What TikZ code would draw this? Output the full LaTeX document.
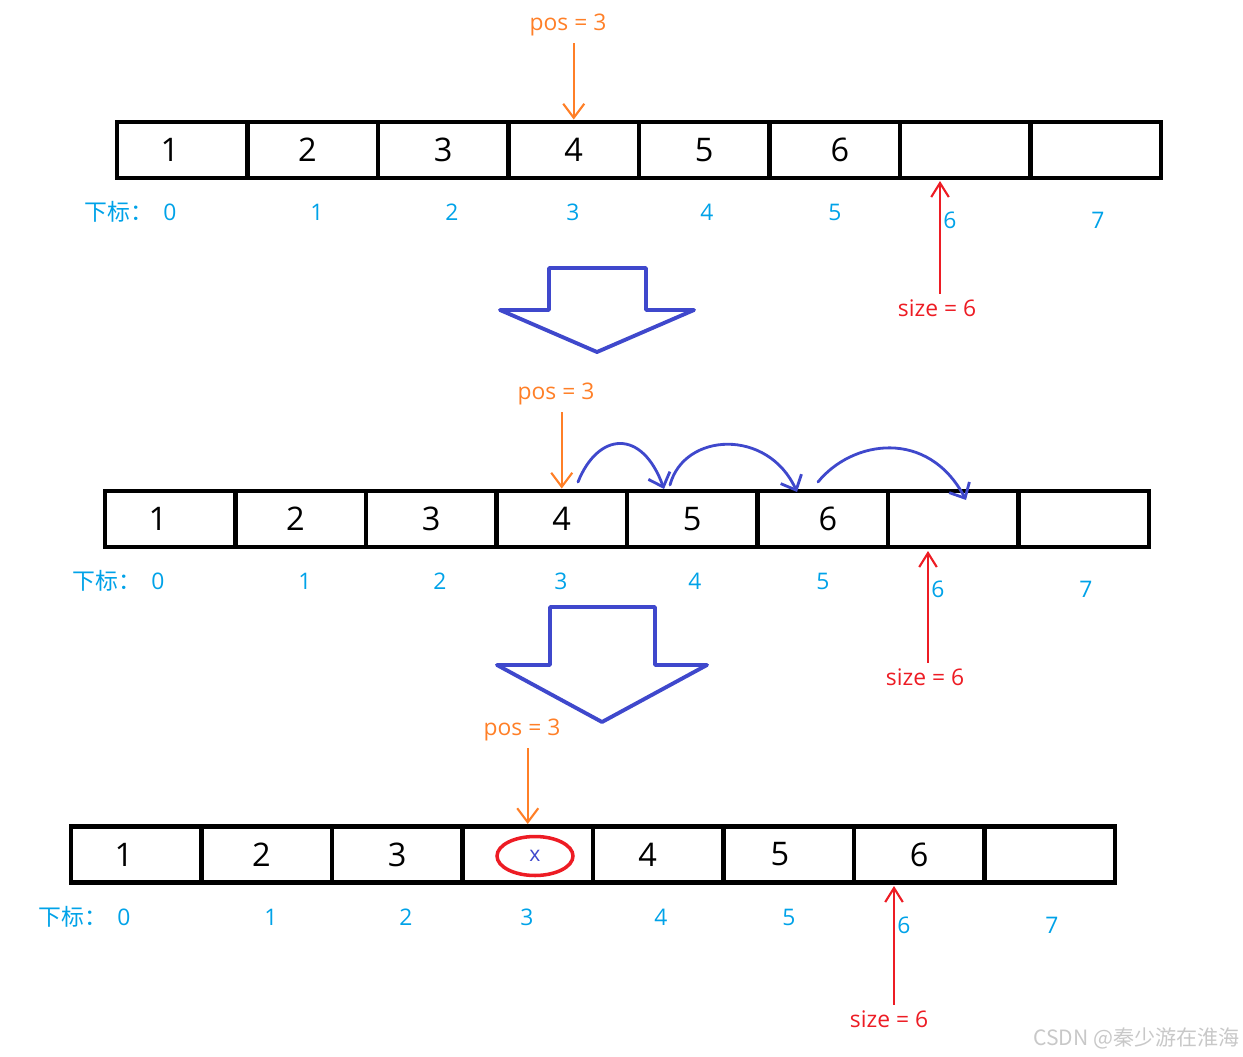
\documentclass[tikz,border=0pt]{standalone}
\usepackage{fontspec}
\setmainfont{Open Sans}
\newfontfamily\cjk{Noto Sans CJK SC}
\definecolor{posorange}{RGB}{255,127,39}
\definecolor{idxblue}{RGB}{0,162,232}
\definecolor{sizered}{RGB}{237,28,36}
\definecolor{penblue}{RGB}{63,72,204}
\definecolor{markgray}{RGB}{200,200,200}
\usetikzlibrary{arrows.meta,shapes.geometric}

\begin{document}
\begin{tikzpicture}[x=0.02cm, y=-0.02cm,
      cell/.style={draw, line width=2.8pt, minimum width=2.61cm,
                   minimum height=1.12cm, inner sep=0pt,
                   font=\fontsize{18.5}{18.5}\selectfont},
      idx/.style={text=idxblue, inner sep=0pt, font=\fontsize{13}{13}\selectfont},
      poslbl/.style={text=posorange, inner sep=0pt, font=\fontsize{13}{13}\selectfont},
      sizelbl/.style={text=sizered, inner sep=0pt, font=\fontsize{13}{13}\selectfont},
      posarr/.style={-{Straight Barb[length=8pt,width=12pt]}, line width=1.2pt,
                     posorange, shorten <=4pt},
      sizearr/.style={-{Straight Barb[length=8pt,width=10pt]}, line width=1.2pt,
                      sizered, shorten <=3pt},
      hop/.style={-{Straight Barb[length=7pt,width=13pt]}, line width=1.6pt,
                  penblue, line cap=round},
      bigarr/.style={draw=penblue, line width=2.2pt, line join=round}
    ]
    \useasboundingbox (0,0) rectangle (1243,1057);

    % row 1
    \node[cell] (r1c0) at (182.25,150) {\hspace{-14pt}1};
    \node[cell] (r1c1) at (312.75,150) {\hspace{-6pt}2};
    \node[cell] (r1c2) at (443.25,150) {3};
    \node[cell] (r1c3) at (573.75,150) {4};
    \node[cell] (r1c4) at (704.25,150) {5};
    \node[cell] (r1c5) at (834.75,150) {\hspace{6pt}6};
    \node[cell] (r1c6) at (965.25,150) {};
    \node[cell] (r1c7) at (1095.75,150) {};

    \node[idx, anchor=west] (r1lbl) at (84,212) {\cjk 下标：};
    \node[idx] (r1i0) at (170,212) {0};
    \node[idx] (r1i1) at (317,212) {1};
    \node[idx] (r1i2) at (452,212) {2};
    \node[idx] (r1i3) at (573,212) {3};
    \node[idx] (r1i4) at (707,212) {4};
    \node[idx] (r1i5) at (835,212) {5};
    \node[idx] (r1i6) at (950,220) {6};
    \node[idx] (r1i7) at (1098,220) {7};

    \node[poslbl] (pos1) at (568,25) {pos = 3};
    \draw[posarr] (pos1.south -| r1c3.north) -- (r1c3.north);
    \node[sizelbl] (size1) at (937,308) {size = 6};
    \coordinate (s1) at (940,181);
    \draw[sizearr] (size1.north -| s1) -- (s1);

    \draw[bigarr] (549,268) -- (646,268) -- (646,310) -- (694,310)
      -- (597,352) -- (500,310) -- (549,310) -- cycle;

    % row 2
    \node[cell] (r2c0) at (170.25,519) {\hspace{-14pt}1};
    \node[cell] (r2c1) at (300.75,519) {\hspace{-6pt}2};
    \node[cell] (r2c2) at (431.25,519) {3};
    \node[cell] (r2c3) at (561.75,519) {4};
    \node[cell] (r2c4) at (692.25,519) {5};
    \node[cell] (r2c5) at (822.75,519) {\hspace{6pt}6};
    \node[cell] (r2c6) at (953.25,519) {};
    \node[cell] (r2c7) at (1083.75,519) {};

    \node[idx, anchor=west] (r2lbl) at (72,581) {\cjk 下标：};
    \node[idx] (r2i0) at (158,581) {0};
    \node[idx] (r2i1) at (305,581) {1};
    \node[idx] (r2i2) at (440,581) {2};
    \node[idx] (r2i3) at (561,581) {3};
    \node[idx] (r2i4) at (695,581) {4};
    \node[idx] (r2i5) at (823,581) {5};
    \node[idx] (r2i6) at (938,589) {6};
    \node[idx] (r2i7) at (1086,589) {7};

    \node[poslbl] (pos2) at (556,394) {pos = 3};
    \draw[posarr] (pos2.south -| r2c3.north) -- (r2c3.north);
    \node[sizelbl] (size2) at (925,677) {size = 6};
    \coordinate (s2) at (928,551);
    \draw[sizearr] (size2.north -| s2) -- (s2);

    \coordinate (h1a) at (578,482);
    \coordinate (h1b) at (664,489);
    \coordinate (h2a) at (670,485);
    \coordinate (h2b) at (797,492);
    \coordinate (h3a) at (818,482);
    \coordinate (h3b) at (966,500);
    \draw[hop] (h1a) .. controls (598,432) and (642,428) .. (h1b);
    \draw[hop] (h2a) .. controls (684,432) and (768,428) .. (h2b);
    \draw[hop] (h3a) .. controls (852,440) and (928,428) .. (h3b);

    \draw[bigarr] (550,607) -- (655,607) -- (655,665) -- (707,665)
      -- (602,722) -- (497,665) -- (550,665) -- cycle;

    % row 3
    \node[cell] (r3c0) at (136.25,854.5) {\hspace{-14pt}1};
    \node[cell] (r3c1) at (266.75,854.5) {\hspace{-6pt}2};
    \node[cell] (r3c2) at (397.25,854.5) {3};
    \node[cell] (r3c3) at (527.75,854.5) {};
    \node[cell] (r3c4) at (658.25,854.5) {\hspace{-12pt}4};
    \node[cell] (r3c5) at (788.75,854.5) {\hspace{-10pt}5};
    \node[cell] (r3c6) at (919.25,854.5) {6};
    \node[cell] (r3c7) at (1049.75,854.5) {};
    \node[draw=sizered, line width=2pt, ellipse, minimum width=1.52cm,
          minimum height=0.78cm, inner sep=0pt, text=penblue,
          font=\fontsize{12}{12}\selectfont] (newx) at (535,856) {x};

    \node[idx, anchor=west] (r3lbl) at (38,917) {\cjk 下标：};
    \node[idx] (r3i0) at (124,917) {0};
    \node[idx] (r3i1) at (271,917) {1};
    \node[idx] (r3i2) at (406,917) {2};
    \node[idx] (r3i3) at (527,917) {3};
    \node[idx] (r3i4) at (661,917) {4};
    \node[idx] (r3i5) at (789,917) {5};
    \node[idx] (r3i6) at (904,925) {6};
    \node[idx] (r3i7) at (1052,925) {7};

    \node[poslbl] (pos3) at (522,730) {pos = 3};
    \draw[posarr] (pos3.south -| r3c3.north) -- (r3c3.north);
    \node[sizelbl] (size3) at (889,1019) {size = 6};
    \coordinate (s3) at (894,886);
    \draw[sizearr] (size3.north -| s3) -- (s3);

    \node[text=markgray, anchor=east, inner sep=0pt,
          font=\cjk\fontsize{12}{12}\selectfont] (wmark) at (1240,1038) {CSDN @秦少游在淮海};
  \end{tikzpicture}
\end{document}
